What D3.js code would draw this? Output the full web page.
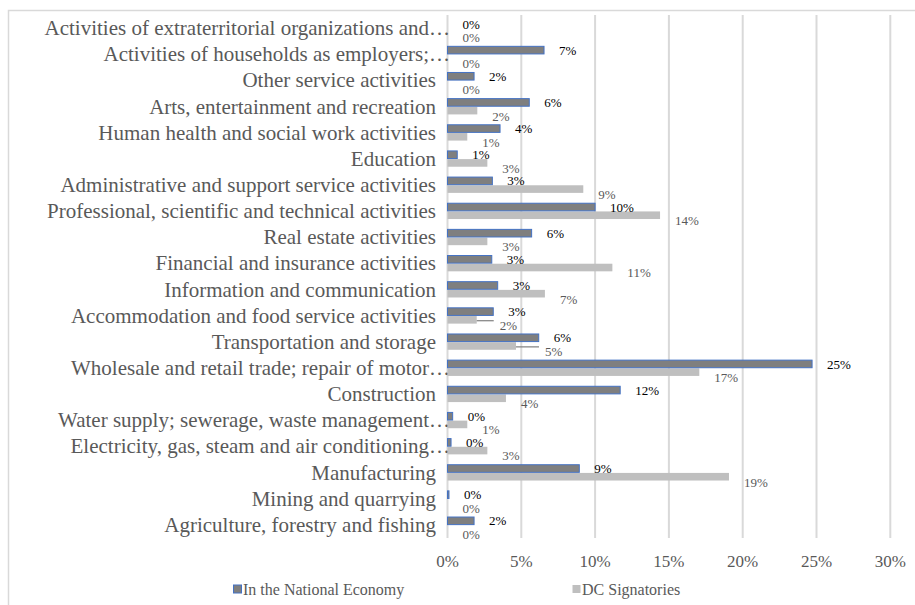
<!DOCTYPE html>
<html>
<head>
<meta charset="utf-8">
<script src="https://cdn.jsdelivr.net/npm/d3@7"></script>
<style>
    body { margin: 0; background: #fff; }
    svg { display: block; font-family: "Liberation Serif", "Times New Roman", serif; }
</style>
</head>
<body>
<svg width="915" height="605"></svg>
<script>
// categories, top to bottom
const categories = [
    "Activities of extraterritorial organizations and…",
    "Activities of households as employers;…",
    "Other service activities",
    "Arts, entertainment and recreation",
    "Human health and social work activities",
    "Education",
    "Administrative and support service activities",
    "Professional, scientific and technical activities",
    "Real estate activities",
    "Financial and insurance activities",
    "Information and communication",
    "Accommodation and food service activities",
    "Transportation and storage",
    "Wholesale and retail trade; repair of motor…",
    "Construction",
    "Water supply; sewerage, waste management…",
    "Electricity, gas, steam and air conditioning…",
    "Manufacturing",
    "Mining and quarrying",
    "Agriculture, forestry and fishing"
];

const nationalEconomy = [0.000, 0.0654, 0.018, 0.0554, 0.0356, 0.0066, 0.0304, 0.100, 0.057, 0.030,
    0.034, 0.031, 0.0618, 0.247, 0.117, 0.0035, 0.0024, 0.0893, 0.001, 0.018];
const dcSignatories = [0.000, 0.000, 0.000, 0.0202, 0.0134, 0.027, 0.092, 0.144, 0.027, 0.1117,
    0.066, 0.0198, 0.0464, 0.1706, 0.0396, 0.0134, 0.027, 0.1907, 0.000, 0.000];

const seriesNames = ["In the National Economy", "DC Signatories"];
const xTicks = [0, 0.05, 0.10, 0.15, 0.20, 0.25, 0.30];

function drawChart() {
    const svg = d3.select("svg");
    const fmt = d3.format(".0%");

    const x = d3.scaleLinear().domain([0, 0.30]).range([447.5, 890.3]);
    const y = d3.scaleBand().domain(categories).range([15, 538]);
    const barH = 7.6;

    // outer frame
    svg.append("path")
        .attr("d", "M8.5,605 V10.5 H915")
        .attr("fill", "none")
        .attr("stroke", "#d9d9d9")
        .attr("stroke-width", 1.5);

    // gridlines
    svg.append("g")
        .selectAll("line")
        .data(xTicks)
        .enter().append("line")
        .attr("x1", d => x(d))
        .attr("x2", d => x(d))
        .attr("y1", 15)
        .attr("y2", 538)
        .attr("stroke", "#d9d9d9")
        .attr("stroke-width", 2);

    // x tick labels
    svg.append("g")
        .selectAll("text")
        .data(xTicks)
        .enter().append("text")
        .attr("x", d => x(d))
        .attr("y", 567)
        .attr("text-anchor", "middle")
        .attr("font-size", 17)
        .attr("fill", "#595959")
        .text(d => fmt(d));

    // category labels
    svg.append("g")
        .selectAll("text")
        .data(categories)
        .enter().append("text")
        .attr("x", d => d.endsWith("…") ? 450 : 436)
        .attr("y", d => y(d) + y.bandwidth() / 2 + 7)
        .attr("text-anchor", "end")
        .attr("font-size", 21)
        .attr("fill", "#595959")
        .text(d => d);

    const mid = d => y(d) + y.bandwidth() / 2;

    // DC signatories bars (below)
    svg.append("g")
        .selectAll("rect")
        .data(categories)
        .enter().append("rect")
        .attr("x", x(0))
        .attr("y", d => mid(d) + 0.3)
        .attr("width", (d, i) => x(dcSignatories[i]) - x(0))
        .attr("height", barH)
        .attr("fill", "#bfbfbf");

    // national economy bars (above)
    svg.append("g")
        .selectAll("rect")
        .data(categories)
        .enter().append("rect")
        .attr("x", x(0))
        .attr("y", d => mid(d) - barH - 0.3)
        .attr("width", (d, i) => x(nationalEconomy[i]) - x(0))
        .attr("height", barH)
        .attr("fill", "#7f7f7f")
        .attr("stroke", "#4472c4")
        .attr("stroke-width", 1);

    // labels that were dragged a bit to the right, with a leader line
    const nudge = {
        "Accommodation and food service activities": 8,
        "Transportation and storage": 14
    };

    svg.append("g")
        .selectAll("line")
        .data(categories.filter(c => nudge[c]))
        .enter().append("line")
        .attr("x1", d => x(dcSignatories[categories.indexOf(d)]))
        .attr("x2", d => x(dcSignatories[categories.indexOf(d)]) + 15 + nudge[d] - 6)
        .attr("y1", d => mid(d) + 5)
        .attr("y2", d => mid(d) + 5)
        .attr("stroke", "#7f7f7f")
        .attr("stroke-width", 1.2);

    svg.append("g")
        .selectAll("text")
        .data(categories)
        .enter().append("text")
        .attr("x", (d, i) => x(dcSignatories[i]) + 15 + (nudge[d] || 0))
        .attr("y", d => mid(d) + 14)
        .attr("font-size", 13)
        .attr("fill", "#595959")
        .text((d, i) => fmt(dcSignatories[i]));

    svg.append("g")
        .selectAll("text")
        .data(categories)
        .enter().append("text")
        .attr("x", (d, i) => x(nationalEconomy[i]) + 15)
        .attr("y", d => mid(d) + 0.5)
        .attr("font-size", 13)
        .attr("fill", "#000")
        .text((d, i) => fmt(nationalEconomy[i]));

    // legend
    const legendX = [233, 572];
    const legend = svg.append("g")
        .selectAll("g")
        .data(seriesNames)
        .enter().append("g")
        .attr("transform", (d, i) => `translate(${legendX[i]},590)`);

    legend.append("rect")
        .attr("x", 0.5)
        .attr("y", -5)
        .attr("width", 8)
        .attr("height", 8)
        .attr("fill", (d, i) => i === 0 ? "#7f7f7f" : "#bfbfbf")
        .attr("stroke", (d, i) => i === 0 ? "#4472c4" : "none");

    legend.append("text")
        .attr("x", 10)
        .attr("y", 5)
        .attr("font-size", 16)
        .attr("fill", "#595959")
        .text(d => d);
}

drawChart();
</script>
</body>
</html>
